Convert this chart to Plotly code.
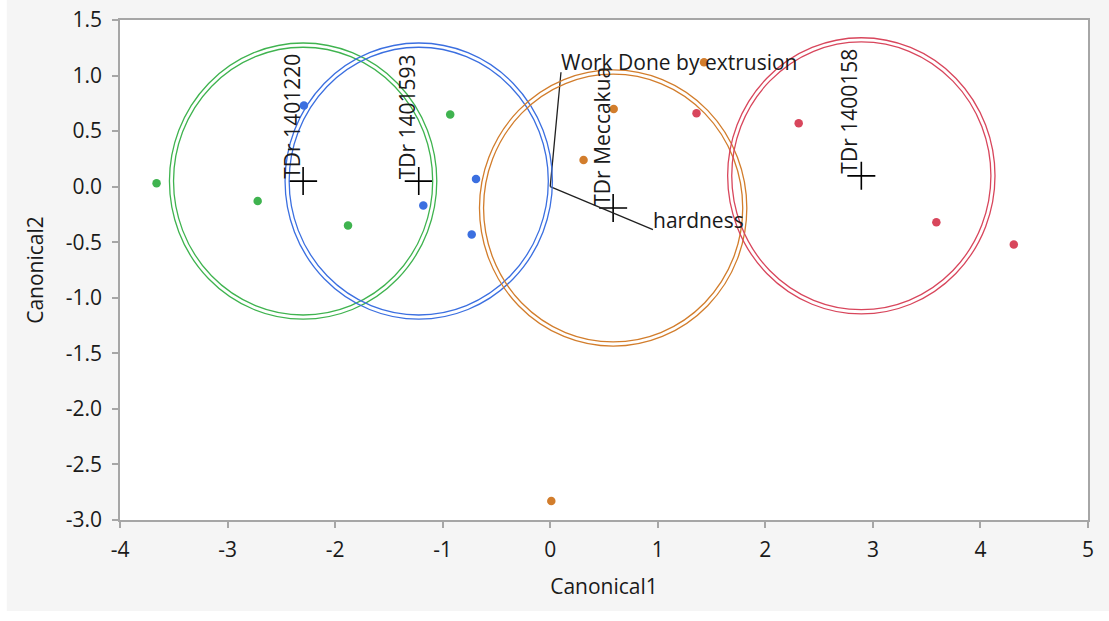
import numpy as np
import plotly.graph_objects as go

# Canonical scores per observation
group_names = ["TDr 1401220", "TDr 1401593", "TDr Meccakua", "TDr 1400158"]
group_colors = ["#3fb34f", "#3b6fe0", "#d27d2c", "#d8465c"]
obs_group = [0, 0, 0, 0, 1, 1, 1, 1, 2, 2, 2, 2, 3, 3, 3, 3]
canonical1 = [-3.66, -2.72, -1.88, -0.93,
              -2.29, -0.69, -1.18, -0.73,
              1.43, 0.59, 0.31, 0.01,
              1.36, 2.31, 3.59, 4.31]
canonical2 = [0.03, -0.13, -0.35, 0.65,
              0.73, 0.07, -0.17, -0.43,
              1.12, 0.70, 0.24, -2.83,
              0.66, 0.57, -0.32, -0.52]

# Biplot rays for the response variables
ray_names = ["Work Done by extrusion", "hardness"]
ray_c1 = [0.10, 0.955]
ray_c2 = [1.03, -0.386]

x_ticks = [-4, -3, -2, -1, 0, 1, 2, 3, 4, 5]
y_ticks = [-3.0, -2.5, -2.0, -1.5, -1.0, -0.5, 0.0, 0.5, 1.0, 1.5]

FONT = "Open Sans, Noto Sans, sans-serif"
FS = 21
TXT = "#1a1a1a"
AX = "#a6a6a6"

c1 = np.array(canonical1)
c2 = np.array(canonical2)
g = np.array(obs_group)

fig = go.Figure()
shapes = []

# outer panel background, then the white plotting area on top of it
shapes.append(dict(type="rect", xref="paper", yref="paper", x0=-0.117, x1=1.03,
                   y0=-0.182, y1=1.05, fillcolor="#f5f5f5", line_width=0, layer="below"))
shapes.append(dict(type="rect", xref="paper", yref="paper", x0=0, x1=1,
                   y0=0, y1=1, fillcolor="white", line_width=0, layer="below"))

for k, name in enumerate(group_names):
    sel = g == k
    n = sel.sum()
    cx, cy = c1[sel].mean(), c2[sel].mean()
    # 95% confidence region for the group mean (chi-square, 2 df)
    r = np.sqrt(5.991 / n)
    for dr in (-0.019, 0.019):
        shapes.append(dict(type="circle", xref="x", yref="y",
                           x0=cx - r - dr, x1=cx + r + dr, y0=cy - r - dr, y1=cy + r + dr,
                           line=dict(color=group_colors[k], width=1.3)))
    fig.add_trace(go.Scatter(x=c1[sel], y=c2[sel], mode="markers",
                             marker=dict(size=8.5, color=group_colors[k]),
                             showlegend=False, hoverinfo="x+y"))
    fig.add_trace(go.Scatter(x=[cx], y=[cy], mode="markers",
                             marker=dict(symbol="cross-thin", size=20,
                                         line=dict(color="black", width=1.6)),
                             showlegend=False, hoverinfo="x+y"))
    fig.add_annotation(x=cx, y=cy, text=name, textangle=-90, showarrow=False,
                       xanchor="right", yanchor="bottom", xshift=4, yshift=0,
                       font=dict(family=FONT, size=FS, color=TXT))

for name, rx, ry in zip(ray_names, ray_c1, ray_c2):
    fig.add_trace(go.Scatter(x=[0, rx], y=[0, ry], mode="lines",
                             line=dict(color="#202020", width=1.3),
                             showlegend=False, hoverinfo="skip"))
    fig.add_annotation(x=rx, y=ry, text=name, showarrow=False,
                       xanchor="left", yanchor="bottom", xshift=-2, yshift=-6,
                       font=dict(family=FONT, size=FS, color=TXT))

fig.update_layout(
    width=1109, height=621,
    margin=dict(l=119.5, r=21, t=19.5, b=101),
    paper_bgcolor="white", plot_bgcolor="white",
    shapes=shapes,
    font=dict(family=FONT, size=FS, color=TXT),
)
fig.update_xaxes(range=[-4, 5], tickvals=x_ticks, ticktext=[str(v) for v in x_ticks],
                 showgrid=False, zeroline=False, showline=True, mirror=True,
                 linecolor=AX, linewidth=1.5, ticks="outside", ticklen=6, tickcolor=AX,
                 tickwidth=1.5, ticklabelstandoff=4, automargin=False,
                 tickfont=dict(family=FONT, size=FS, color=TXT),
                 title=dict(text="Canonical1", standoff=17,
                            font=dict(family=FONT, size=FS, color=TXT)))
fig.update_yaxes(range=[-3, 1.5], tickvals=y_ticks, ticktext=[f"{v:.1f}" for v in y_ticks],
                 showgrid=False, zeroline=False, showline=True, mirror=True,
                 linecolor=AX, linewidth=1.5, ticks="outside", ticklen=6, tickcolor=AX,
                 tickwidth=1.5, ticklabelstandoff=6, automargin=False,
                 tickfont=dict(family=FONT, size=FS, color=TXT),
                 title=dict(text="Canonical2", standoff=16,
                            font=dict(family=FONT, size=FS, color=TXT)))

fig.write_html("out.html")
